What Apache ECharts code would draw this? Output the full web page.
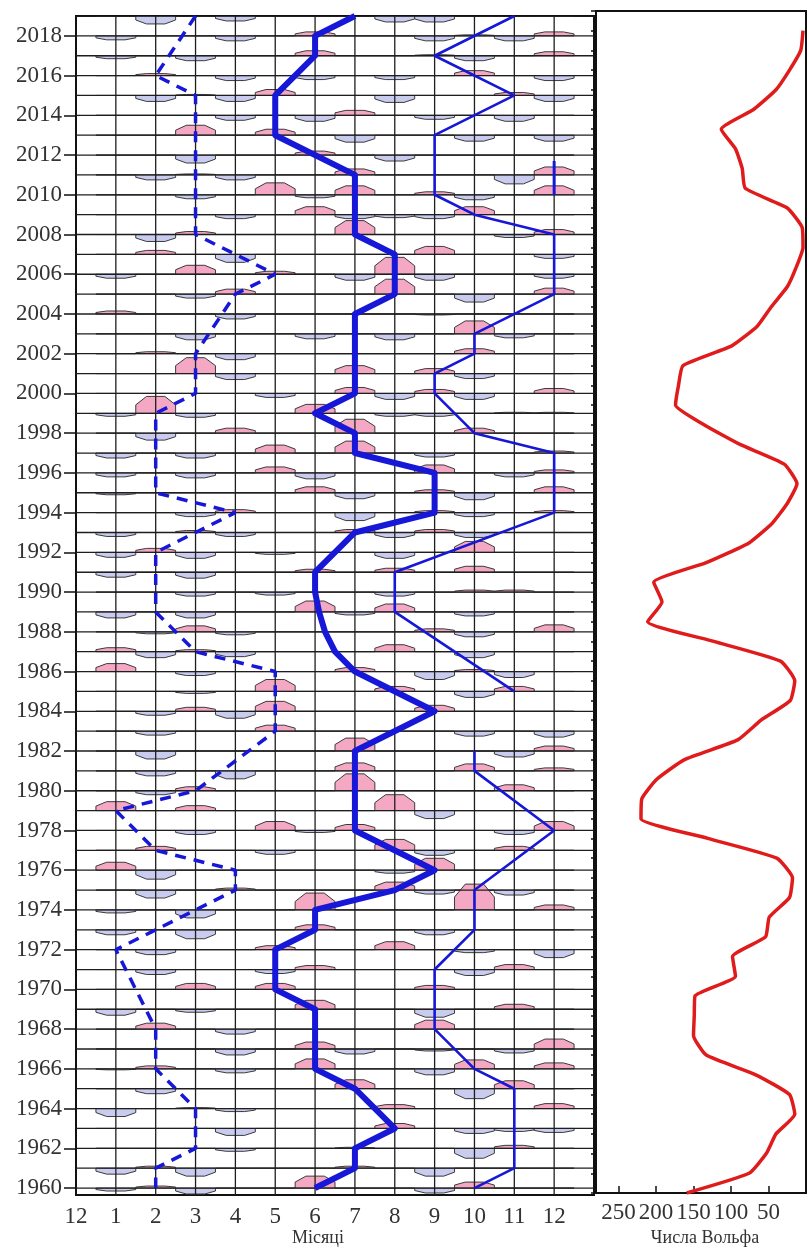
<!DOCTYPE html>
<html><head><meta charset="utf-8">
<script src="https://cdn.jsdelivr.net/npm/echarts@6/dist/echarts.min.js"></script>
<style>html,body{margin:0;padding:0;background:#fff}#c{width:809px;height:1250px}</style>
</head><body><div id="c"></div>
<script>
// ---------- DATA ----------
const monthLabels = ['12','1','2','3','4','5','6','7','8','9','10','11','12'];
const yearLabels = [1960,1962,1964,1966,1968,1970,1972,1974,1976,1978,1980,1982,1984,1986,1988,1990,1992,1994,1996,1998,2000,2002,2004,2006,2008,2010,2012,2014,2016,2018];
const wolfTickLabels = [50,100,150,200,250];

// monthly anomaly glyphs (relative units; + pink upward, - blue downward), rows from 2019 to 1960, months 1..12
const rowYears = [];
for (let y = 2019; y >= 1960; y--) rowYears.push(y);
const anomalies = [
 [0,-8,0,-5,0,0,0,-6,-6,0,1,0],      //2019
 [-4,0,0,-5,0,4,0,0,-5,1,-5,4],      //2018
 [-3,0,-5,0,0,5,0,0,1,-5,0,4],       //2017
 [0,2,0,-5,0,-4,0,-4,0,5,0,-5],      //2016
 [0,-6,1,-6,6,0,0,-7,0,0,3,-6],      //2015
 [0,0,0,-5,0,-6,5,0,-4,0,-6,0],      //2014
 [0,0,10,0,6,0,-7,0,0,-6,0,-6],      //2013
 [0,0,-8,0,0,4,0,-6,0,0,0,0],        //2012
 [0,-5,1,-5,0,0,6,0,0,0,-9,8],       //2011
 [0,0,-4,0,12,-3,9,0,3,-5,0,9],      //2010
 [0,0,0,-4,0,8,-4,-3,-4,8,0,0],      //2009
 [0,-7,3,0,0,0,14,0,0,0,-3,5],       //2008
 [0,4,0,-8,0,0,0,0,8,0,0,-4],        //2007
 [-4,0,9,0,3,0,-6,17,-6,0,0,-4],     //2006
 [0,0,-4,5,0,0,0,15,0,-8,0,6],       //2005
 [3,0,0,-5,0,0,0,0,-1,0,0,0],        //2004
 [0,0,-6,0,0,-5,0,-6,0,13,-4,0],     //2003
 [0,2,0,-6,0,0,0,0,0,5,0,0],         //2002
 [0,0,16,-6,0,0,8,0,5,-5,0,0],       //2001
 [0,0,0,0,-4,0,6,-6,4,-6,0,5],       //2000
 [-3,17,-4,0,0,9,0,-3,-3,0,1,1],     //1999
 [0,-7,0,5,0,0,14,0,0,5,0,0],        //1998
 [-5,0,-5,0,8,0,12,0,-4,0,0,2],      //1997
 [-4,0,-5,0,6,-6,0,0,8,0,-4,3],      //1996
 [-2,0,0,0,0,6,-6,0,3,-7,0,6],       //1995
 [0,0,-4,3,0,0,-8,0,2,-4,0,2],       //1994
 [-4,0,2,-4,0,0,3,-5,3,-5,0,0],      //1993
 [-5,4,-6,0,-2,0,0,-6,0,11,0,0],     //1992
 [-5,0,-6,0,0,3,0,4,0,6,0,0],        //1991
 [0,0,-4,0,-3,0,0,-4,0,2,2,0],       //1990
 [-6,0,-6,0,0,11,-3,8,0,-4,0,0],     //1989
 [0,-2,6,-3,0,0,0,0,3,-5,0,7],       //1988
 [4,-6,2,-5,0,0,0,7,0,-6,0,0],       //1987
 [8,0,-4,0,0,0,4,0,-8,2,-6,0],       //1986
 [0,0,-2,0,12,0,0,5,0,-6,5,0],       //1985
 [0,-4,4,-7,10,0,0,0,6,0,0,0],       //1984
 [0,-4,0,0,6,0,0,0,0,-5,0,-6],       //1983
 [0,-8,0,0,0,0,13,0,0,0,-6,5],       //1982
 [0,-5,0,-8,0,0,8,0,0,7,0,3],        //1981
 [0,-4,4,0,0,0,17,0,0,0,6,0],        //1980
 [9,0,5,0,0,0,0,16,-8,0,0,0],        //1979
 [0,0,-4,0,9,-2,6,0,0,0,-4,9],       //1978
 [0,4,0,0,-4,0,0,11,-5,0,4,0],       //1977
 [8,-9,0,0,0,0,0,-3,12,0,0,0],       //1976
 [0,-8,0,2,0,0,0,8,-4,0,-5,0],       //1975
 [-3,0,-8,0,0,17,0,0,0,26,0,5],      //1974
 [-5,0,-9,0,0,5,0,0,-5,0,0,0],       //1973
 [0,-5,0,0,4,0,0,8,0,-3,0,-8],       //1972
 [0,-5,0,0,-4,4,0,0,0,-6,5,0],       //1971
 [0,0,6,0,6,0,0,0,4,0,0,0],          //1970
 [-6,0,-3,0,0,9,0,0,-8,0,5,0],       //1969
 [0,6,0,-5,0,0,0,0,9,0,0,0],         //1968
 [0,0,0,-6,0,7,-5,0,-2,0,-4,10],     //1967
 [-1,3,0,-4,0,10,0,0,-6,9,0,6],      //1966
 [0,-5,0,0,0,0,9,0,0,-10,8,0],       //1965
 [-8,0,1,-3,0,0,0,4,0,0,0,5],        //1964
 [0,0,0,-7,0,0,0,5,0,-5,-3,-4],      //1963
 [0,0,0,-3,0,0,1,0,0,-10,3,0],       //1962
 [-6,2,-8,0,0,0,2,0,-8,0,0,0],       //1961
 [-3,2,-6,0,0,12,0,0,-5,6,0,0]       //1960
];

// polylines (month position, year)
const dashedMonths = [3,2,3,3,5,4,3,3,2,2,4,2,2,3,5,5,3,1,2,4,4,2,1,2,2,3,3,2,2];
const dashedYears  = [2019,2016,2015,2008,2006,2005,2002,2000,1999,1995,1994,1992,1989,1987,1986,1983,1980,1979,1977,1976,1975,1973,1972,1968,1966,1964,1962,1961,1960];
const thickMonths = [7,6,6,5,5,7,7,8,8,7,7,6,7,7,9,9,7,6,6,6.1,6.25,6.5,7,9,7,7,9,8,6,6,5,5,6,6,7,8,7,7,6];
const thickYears  = [2019,2018,2017,2015,2013,2011,2008,2007,2005,2004,2000,1999,1998,1997,1996,1994,1993,1991,1990,1989,1988,1987,1986,1984,1982,1978,1976,1975,1974,1973,1972,1970,1969,1966,1965,1963,1962,1961,1960];
const thinAMonths = [11,9,11,9,9,10,12,12,10,10,9,9,10,12,12,8,8,11];
const thinAYears  = [2019,2017,2015,2013,2010,2009,2008,2005,2003,2002,2001,2000,1998,1997,1994,1991,1989,1985];
const thinBMonths = [10,10,12,10,10,9,9,10,11,11,10];
const thinBYears  = [1982,1981,1978,1975,1973,1971,1968,1966,1965,1961,1960];
const thinCMonths = [12,12];
const thinCYears  = [2010,2011.7];

// Wolf numbers (yearly)
const wolfYears = [];
for (let y = 1960; y <= 2019; y++) wolfYears.push(y);
const wolfNumbers = [159,76,53,40,15,22,67,133,150,149,148,94,98,54,49,22,18,39,131,220,219,199,162,91,60,21,15,34,123,211,192,203,133,76,45,25,12,29,88,136,174,170,164,99,65,46,25,13,4,5,25,81,85,94,113,70,40,22,7,4];

// ---------- RENDER ----------
const FONT = 'Liberation Serif';
const Y_MIN = 1959.65, Y_MAX = 2019, X_MAX = 13;
const GLYPH_UNIT = 0.05;   // years per anomaly unit
const PINK = '#f5a8c4', LAV = '#c9cbef', BLUE = '#1717d8', RED = '#e01b1b', GRIDC = '#1e1e1e';

const glyphData = [];
rowYears.forEach((y, i) => anomalies[i].forEach((v, j) => glyphData.push([j + 1, y, v])));
const hLineData = rowYears.map(y => [0, y]);
const vLineData = []; for (let m = 1; m <= 12; m++) vLineData.push([m, Y_MAX]);
const pairs = (ms, ys) => ms.map((m, i) => [m, ys[i]]);

function renderGlyph(params, api) {
  const m = api.value(0), y = api.value(1), v = api.value(2);
  const p = api.coord([m, y]);
  const w = api.size([1, 0])[0];
  const yearPx = api.size([0, 1])[1];
  const h = Math.abs(v) * GLYPH_UNIT * yearPx;
  const d = v >= 0 ? -1 : 1;
  const x0 = p[0] - w / 2, x1 = p[0] + w / 2, tw = w * 0.23;
  const pts = [[x0, p[1]], [x0, p[1] + d * h * 0.5], [p[0] - tw, p[1] + d * h], [p[0] + tw, p[1] + d * h], [x1, p[1] + d * h * 0.5], [x1, p[1]]];
  return { type: 'polygon', shape: { points: pts }, style: { fill: v >= 0 ? PINK : LAV, stroke: '#3a3a3a', lineWidth: 1 } };
}
function renderH(params, api) {
  const a = api.coord([0, api.value(1)]), b = api.coord([X_MAX, api.value(1)]);
  return { type: 'line', shape: { x1: a[0], y1: a[1], x2: b[0], y2: b[1] }, style: { stroke: GRIDC, lineWidth: 1.3 } };
}
function renderV(params, api) {
  const a = api.coord([api.value(0), Y_MIN]), b = api.coord([api.value(0), Y_MAX]);
  return { type: 'line', shape: { x1: a[0], y1: a[1], x2: b[0], y2: b[1] }, style: { stroke: GRIDC, lineWidth: 1.3 } };
}

const chart = echarts.init(document.getElementById('c'));
const lblStyle = { fontFamily: FONT, fontSize: 23, color: '#333' };
chart.setOption({
  animation: false,
  backgroundColor: '#fff',
  grid: [
    { left: 76, top: 16, width: 518, height: 1179, show: true, borderColor: '#111', borderWidth: 2, backgroundColor: 'transparent' },
    { left: 596, top: 11, right: -2, bottom: 57, show: true, borderColor: '#111', borderWidth: 2, backgroundColor: 'transparent' }
  ],
  xAxis: [
    { gridIndex: 0, type: 'value', min: 0, max: X_MAX, interval: 1,
      axisLine: { show: false, onZero: false }, axisTick: { show: false }, splitLine: { show: false },
      axisLabel: Object.assign({ margin: 10, formatter: v => (v < monthLabels.length ? monthLabels[v] : '') }, lblStyle) },
    { gridIndex: 1, type: 'value', inverse: true, min: 0, max: 280, interval: 50,
      axisLine: { show: true, onZero: false, lineStyle: { color: '#111', width: 2 } },
      axisTick: { show: true, inside: true, length: 7, lineStyle: { color: '#111', width: 1.5 } },
      splitLine: { show: false },
      axisLabel: Object.assign({ margin: 8, showMaxLabel: false, formatter: v => (wolfTickLabels.indexOf(v) >= 0 ? String(v) : '') }, lblStyle) }
  ],
  yAxis: [
    { gridIndex: 0, type: 'value', min: Y_MIN, max: Y_MAX,
      axisLine: { show: false, onZero: false }, splitLine: { show: false },
      axisTick: { show: true, customValues: yearLabels, length: 12, lineStyle: { color: '#111', width: 1.5 } },
      axisLabel: Object.assign({ customValues: yearLabels, margin: 14, formatter: v => String(Math.round(v)) }, lblStyle) },
    { gridIndex: 1, type: 'value', min: 1960, max: 2020, interval: 1, position: 'left',
      axisLine: { show: true, onZero: false, lineStyle: { color: '#111', width: 2 } },
      axisTick: { show: true, length: 5, lineStyle: { color: '#111', width: 1.5 } },
      axisLabel: { show: false }, splitLine: { show: false } }
  ],
  graphic: [
    { type: 'text', x: 318, y: 1238, style: { text: 'Місяці', font: '18px "Liberation Serif"', fill: '#333', align: 'center', verticalAlign: 'middle' } },
    { type: 'text', x: 705, y: 1238, style: { text: 'Числа Вольфа', font: '18px "Liberation Serif"', fill: '#333', align: 'center', verticalAlign: 'middle' } }
  ],
  series: [
    { type: 'custom', xAxisIndex: 0, yAxisIndex: 0, clip: true, z: 2, renderItem: renderGlyph, data: glyphData, silent: true },
    { type: 'custom', xAxisIndex: 0, yAxisIndex: 0, clip: true, z: 3, renderItem: renderH, data: hLineData, silent: true },
    { type: 'custom', xAxisIndex: 0, yAxisIndex: 0, clip: true, z: 3, renderItem: renderV, data: vLineData, silent: true },
    { type: 'line', xAxisIndex: 0, yAxisIndex: 0, z: 5, symbol: 'none', data: pairs(dashedMonths, dashedYears),
      lineStyle: { color: BLUE, width: 3.5, type: [11, 8] } },
    { type: 'line', xAxisIndex: 0, yAxisIndex: 0, z: 5, symbol: 'none', data: pairs(thickMonths, thickYears),
      lineStyle: { color: BLUE, width: 6, join: 'round' } },
    { type: 'line', xAxisIndex: 0, yAxisIndex: 0, z: 5, symbol: 'none', data: pairs(thinAMonths, thinAYears),
      lineStyle: { color: BLUE, width: 2.6 } },
    { type: 'line', xAxisIndex: 0, yAxisIndex: 0, z: 5, symbol: 'none', data: pairs(thinBMonths, thinBYears),
      lineStyle: { color: BLUE, width: 2.6 } },
    { type: 'line', xAxisIndex: 0, yAxisIndex: 0, z: 5, symbol: 'none', data: pairs(thinCMonths, thinCYears),
      lineStyle: { color: BLUE, width: 3 } },
    { type: 'line', xAxisIndex: 1, yAxisIndex: 1, z: 5, symbol: 'none', smooth: 0.15,
      data: wolfYears.map((y, i) => [wolfNumbers[i], y]),
      lineStyle: { color: RED, width: 3.5 } }
  ]
});
</script></body></html>
